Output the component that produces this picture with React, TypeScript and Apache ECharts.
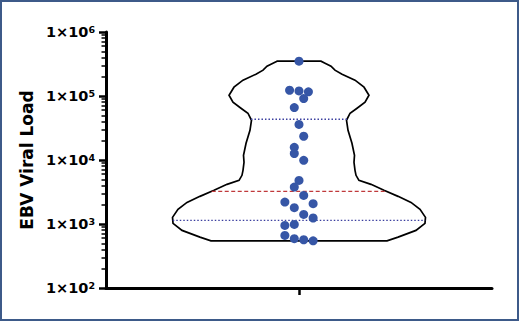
import React, { useEffect, useRef } from 'react';
import * as echarts from 'echarts';

// ---- data ----
const viralLoad = [350000, 123000, 120000, 116000, 91000, 66000, 36000, 23500, 15800, 12600, 9900, 4800, 3780, 2800, 2200, 2080, 1800, 1410, 1240, 985, 950, 664, 589, 567, 545];
const swarmSlot = [0, -2, 0, 2, 1, -1, 0, 1, -1, -1, 1, 0, -1, 1, -3, 3, -1, 1, 3, -1, -3, -3, -1, 1, 3];

// violin outline: level (viral load) and relative half width (0..1)
const violinLevel = [350400, 326000, 292600, 253500, 219400, 176700, 137300, 102900, 80000, 64440, 53800, 41800, 29160, 18250, 11850, 9205, 6900, 5764, 4812, 4166, 3357, 2704, 2178, 1692, 1269, 1022, 794, 624, 545];
const violinWidth = [0.173, 0.205, 0.252, 0.283, 0.339, 0.441, 0.512, 0.551, 0.52, 0.457, 0.402, 0.374, 0.386, 0.417, 0.437, 0.433, 0.441, 0.449, 0.472, 0.567, 0.669, 0.78, 0.882, 0.953, 0.996, 0.992, 0.921, 0.78, 0.693];

const quartile1 = 1140;
const median = 3240;
const quartile3 = 43400;

const yTickMultipliers = [2, 3, 4, 5, 6, 7, 8, 9];
const yDecades = [100, 1000, 10000, 100000];
const yMin = 100;
const yMax = 1000000;

const MAX_HALF = 0.658; // x-axis units
const SLOT = 0.0244;

function widthAt(v: number): number {
  const lv = Math.log10(v);
  for (let i = 0; i < violinLevel.length - 1; i++) {
    const a = Math.log10(violinLevel[i]);
    const b = Math.log10(violinLevel[i + 1]);
    if (lv <= a && lv >= b) {
      const t = (lv - a) / (b - a);
      return violinWidth[i] + t * (violinWidth[i + 1] - violinWidth[i]);
    }
  }
  return 0;
}

export default function App() {
  const ref = useRef<HTMLDivElement>(null);
  useEffect(() => {
    if (!ref.current) return;
    const chart = echarts.init(ref.current, undefined, { renderer: 'svg' });
    const minorTicks: number[] = [];
    yDecades.forEach((d) => yTickMultipliers.forEach((m) => minorTicks.push(d * m)));

    const option: any = {
      animation: false,
      backgroundColor: '#ffffff',
      graphic: [
        {
          type: 'rect',
          shape: { x: 1, y: 1, width: 517, height: 319 },
          style: { fill: 'none', stroke: '#3d5a89', lineWidth: 2 },
          z: 100,
        },
      ],
      grid: { left: 106, right: 27, top: 32, bottom: 33 },
      xAxis: {
        type: 'value',
        min: 0,
        max: 2,
        axisLine: { show: true, onZero: false, lineStyle: { color: '#000', width: 3 } },
        axisTick: { show: true, customValues: [1], length: 7, lineStyle: { color: '#000', width: 2.5 } },
        axisLabel: { show: false },
        splitLine: { show: false },
      },
      yAxis: [
        {
          type: 'log',
          logBase: 10,
          min: yMin,
          max: yMax,
          position: 'left',
          axisLine: { show: true, onZero: false, lineStyle: { color: '#000', width: 3 } },
          axisTick: { show: true, length: 7, lineStyle: { color: '#000', width: 2.5 } },
          axisLabel: { show: false },
          splitLine: { show: false },
        },
        {
          type: 'log',
          logBase: 10,
          min: yMin,
          max: yMax,
          position: 'left',
          axisLine: { show: false, onZero: false },
          axisTick: { show: true, customValues: minorTicks, length: 4.5, lineStyle: { color: '#000', width: 1.5 } },
          axisLabel: { show: false },
          splitLine: { show: false },
        },
        {
          type: 'log',
          logBase: 10,
          min: yMin,
          max: yMax,
          position: 'left',
          name: 'EBV Viral Load',
          nameLocation: 'middle',
          nameGap: 63,
          nameTextStyle: { fontFamily: 'DejaVu Sans', fontWeight: 'bold', fontSize: 17, color: '#000' },
          axisLine: { show: false, onZero: false },
          axisTick: { show: false },
          splitLine: { show: false },
          axisLabel: {
            margin: 11,
            formatter: (v: number) => `{b|1×10}{s|${Math.round(Math.log10(v))}}`,
            rich: {
              b: { fontFamily: 'DejaVu Sans', fontWeight: 'bold', fontSize: 14.5, color: '#000' },
              s: { fontFamily: 'DejaVu Sans', fontWeight: 'bold', fontSize: 9.5, color: '#000', verticalAlign: 'top' },
            },
          },
        },
      ],
      series: [
        {
          type: 'custom',
          yAxisIndex: 0,
          clip: false,
          z: 1,
          data: [[1, median]],
          renderItem: (params: any, api: any) => {
            const left = violinLevel.map((v, i) => api.coord([1 - violinWidth[i] * MAX_HALF, v]));
            const right = violinLevel.map((v, i) => api.coord([1 + violinWidth[i] * MAX_HALF, v])).reverse();
            const qLine = (v: number, color: string, dash: number[]) => {
              const w = widthAt(v) * MAX_HALF;
              const p1 = api.coord([1 - w, v]);
              const p2 = api.coord([1 + w, v]);
              return {
                type: 'line',
                shape: { x1: p1[0], y1: p1[1], x2: p2[0], y2: p2[1] },
                style: { stroke: color, lineWidth: 1.4, lineDash: dash },
              };
            };
            return {
              type: 'group',
              children: [
                {
                  type: 'polygon',
                  shape: { points: left.concat(right) },
                  style: { fill: 'none', stroke: '#000', lineWidth: 1.7 },
                },
                qLine(quartile3, '#3b3f9f', [1.5, 2]),
                qLine(median, '#c0393b', [4, 2.5]),
                qLine(quartile1, '#3b3f9f', [1.5, 2]),
              ],
            };
          },
        },
        {
          type: 'scatter',
          yAxisIndex: 0,
          z: 5,
          symbolSize: 9,
          itemStyle: { color: '#3656a6', opacity: 1 },
          data: viralLoad.map((v, i) => [1 + swarmSlot[i] * SLOT, v]),
        },
      ],
    };
    chart.setOption(option);
    return () => chart.dispose();
  }, []);
  return <div ref={ref} style={{ position: 'absolute', left: 0, top: 0, width: 519, height: 321 }} />;
}
